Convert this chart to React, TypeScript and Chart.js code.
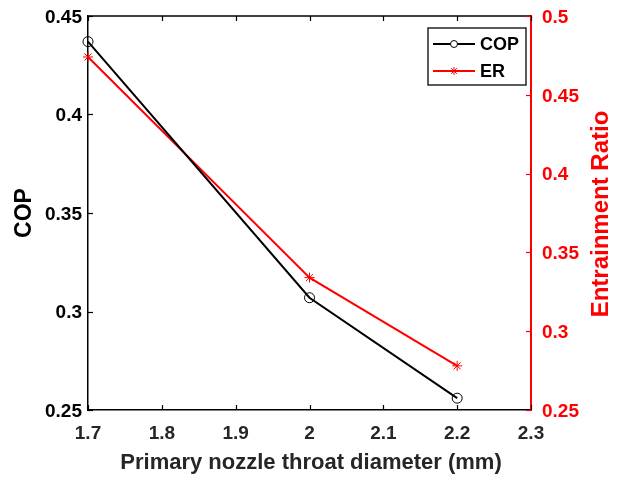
import React, { useEffect, useRef } from "react";
import { Chart, registerables } from "chart.js";

Chart.register(...registerables);

const X_VALUES = [1.7, 2.0, 2.2];
const COP_VALUES = [0.437, 0.307, 0.256];
const ER_VALUES = [0.474, 0.334, 0.278];

const X_MIN = 1.7, X_MAX = 2.3, X_STEP = 0.1;
const COP_MIN = 0.25, COP_MAX = 0.45, COP_STEP = 0.05;
const ER_MIN = 0.25, ER_MAX = 0.5, ER_STEP = 0.05;

const X_TITLE = "Primary nozzle throat diameter (mm)";
const LEFT_TITLE = "COP";
const RIGHT_TITLE = "Entrainment Ratio";
const SERIES_NAMES = ["COP", "ER"];

const FONT = "'Liberation Sans', Arial, Helvetica, sans-serif";
const BLACK = "#000000";
const RED = "#ff0000";
const DARK = "#262626";

const fmt = (v: number) => String(Number(Number(v).toFixed(2)));

const matlabPlugin = {
  id: "matlabAxes",
  afterDraw(chart: any) {
    const { ctx, chartArea } = chart;
    const { left, right, top, bottom } = chartArea;
    const xs = chart.scales.x;
    const yl = chart.scales.y;
    const yr = chart.scales.y1;
    const TL = 5;
    ctx.save();
    // top border
    ctx.strokeStyle = BLACK;
    ctx.lineWidth = 1.5;
    ctx.beginPath();
    ctx.moveTo(left, top);
    ctx.lineTo(right, top);
    ctx.stroke();
    // x ticks (bottom and top, inward)
    ctx.lineWidth = 1.2;
    xs.ticks.forEach((t: any) => {
      const px = Math.round(xs.getPixelForValue(t.value)) + 0.5;
      ctx.beginPath();
      ctx.moveTo(px, bottom);
      ctx.lineTo(px, bottom - TL);
      ctx.moveTo(px, top);
      ctx.lineTo(px, top + TL);
      ctx.stroke();
    });
    // left y ticks
    yl.ticks.forEach((t: any) => {
      const py = Math.round(yl.getPixelForValue(t.value)) + 0.5;
      ctx.beginPath();
      ctx.moveTo(left, py);
      ctx.lineTo(left + TL, py);
      ctx.stroke();
    });
    // right y ticks
    ctx.strokeStyle = RED;
    yr.ticks.forEach((t: any) => {
      const py = Math.round(yr.getPixelForValue(t.value)) + 0.5;
      ctx.beginPath();
      ctx.moveTo(right, py);
      ctx.lineTo(right - TL, py);
      ctx.stroke();
    });

    // titles
    ctx.font = `bold 22px ${FONT}`;
    ctx.textAlign = "center";
    ctx.textBaseline = "middle";
    ctx.fillStyle = DARK;
    ctx.fillText(X_TITLE, 311, 463);

    ctx.save();
    ctx.translate(25, 213);
    ctx.rotate(-Math.PI / 2);
    ctx.fillStyle = BLACK;
    ctx.font = `bold 23px ${FONT}`;
    ctx.fillText(LEFT_TITLE, 0, 0);
    ctx.restore();

    ctx.save();
    ctx.translate(601, 214);
    ctx.rotate(-Math.PI / 2);
    ctx.fillStyle = RED;
    ctx.font = `bold 24px ${FONT}`;
    ctx.fillText(RIGHT_TITLE, 0, 0);
    ctx.restore();

    // legend
    const bx = 428, by = 28, bw = 98, bh = 57;
    ctx.fillStyle = "#ffffff";
    ctx.fillRect(bx, by, bw, bh);
    ctx.strokeStyle = DARK;
    ctx.lineWidth = 1.5;
    ctx.strokeRect(bx, by, bw, bh);
    const rows = [
      { y: 44, color: BLACK, marker: "circle" },
      { y: 71, color: RED, marker: "star" },
    ];
    rows.forEach((r, i) => {
      ctx.strokeStyle = r.color;
      ctx.lineWidth = 2;
      ctx.beginPath();
      ctx.moveTo(433, r.y);
      ctx.lineTo(475, r.y);
      ctx.stroke();
      ctx.lineWidth = 1;
      const cx = 454;
      if (r.marker === "circle") {
        ctx.fillStyle = "#ffffff";
        ctx.beginPath();
        ctx.arc(cx, r.y, 3.5, 0, Math.PI * 2);
        ctx.fill();
        ctx.stroke();
      } else {
        const s = 4;
        ctx.beginPath();
        ctx.moveTo(cx - s, r.y); ctx.lineTo(cx + s, r.y);
        ctx.moveTo(cx, r.y - s); ctx.lineTo(cx, r.y + s);
        const d = s * 0.707;
        ctx.moveTo(cx - d, r.y - d); ctx.lineTo(cx + d, r.y + d);
        ctx.moveTo(cx - d, r.y + d); ctx.lineTo(cx + d, r.y - d);
        ctx.stroke();
      }
      ctx.fillStyle = BLACK;
      ctx.font = `bold 18px ${FONT}`;
      ctx.textAlign = "left";
      ctx.textBaseline = "middle";
      ctx.fillText(SERIES_NAMES[i], 480, r.y + 1);
    });
    ctx.restore();
  },
};

export default function App() {
  const ref = useRef<HTMLCanvasElement | null>(null);
  useEffect(() => {
    document.body.style.margin = "0";
    const canvas = ref.current!;
    const chart = new Chart(canvas, {
      type: "line",
      data: {
        datasets: [
          {
            label: SERIES_NAMES[0],
            data: X_VALUES.map((x, i) => ({ x, y: COP_VALUES[i] })),
            borderColor: BLACK,
            backgroundColor: "rgba(0,0,0,0)",
            borderWidth: 2,
            pointStyle: "circle",
            pointRadius: 5,
            pointBorderWidth: 1,
            pointBorderColor: BLACK,
            pointBackgroundColor: "rgba(0,0,0,0)",
            tension: 0,
            clip: false as any,
            yAxisID: "y",
          },
          {
            label: SERIES_NAMES[1],
            data: X_VALUES.map((x, i) => ({ x, y: ER_VALUES[i] })),
            borderColor: RED,
            backgroundColor: "rgba(0,0,0,0)",
            borderWidth: 2,
            pointStyle: "star",
            pointRadius: 5,
            pointBorderWidth: 1,
            pointBorderColor: RED,
            tension: 0,
            clip: false as any,
            yAxisID: "y1",
          },
        ],
      },
      options: {
        animation: false,
        responsive: false,
        maintainAspectRatio: false,
        layout: { padding: { top: 16, left: 0, right: 0, bottom: 0 } },
        plugins: { legend: { display: false }, tooltip: { enabled: false } },
        scales: {
          x: {
            type: "linear",
            min: X_MIN,
            max: X_MAX,
            grid: { display: false, drawTicks: false },
            border: { display: true, color: BLACK, width: 1.5 },
            ticks: {
              stepSize: X_STEP,
              color: DARK,
              padding: 12,
              maxRotation: 0,
              font: { family: FONT, size: 19, weight: "bold" },
              callback: (v: any) => fmt(v),
            },
            afterFit: (s: any) => { s.height = 69; s.paddingLeft = 0; s.paddingRight = 0; },
          },
          y: {
            type: "linear",
            position: "left",
            min: COP_MIN,
            max: COP_MAX,
            grid: { display: false, drawTicks: false },
            border: { display: true, color: BLACK, width: 1.5 },
            ticks: {
              stepSize: COP_STEP,
              color: BLACK,
              padding: 6,
              labelOffset: 1.5,
              font: { family: FONT, size: 19, weight: "bold" },
              callback: (v: any) => fmt(v),
            },
            afterFit: (s: any) => { s.width = 88; s.paddingTop = 0; s.paddingBottom = 0; },
          },
          y1: {
            type: "linear",
            position: "right",
            min: ER_MIN,
            max: ER_MAX,
            grid: { display: false, drawTicks: false },
            border: { display: true, color: RED, width: 2 },
            ticks: {
              stepSize: ER_STEP,
              color: RED,
              padding: 11,
              labelOffset: 1.5,
              font: { family: FONT, size: 19, weight: "bold" },
              callback: (v: any) => fmt(v),
            },
            afterFit: (s: any) => { s.width = 93; s.paddingTop = 0; s.paddingBottom = 0; },
          },
        },
      },
      plugins: [matlabPlugin],
    });
    return () => chart.destroy();
  }, []);
  return (
    <div style={{ width: 624, height: 479, background: "#fff" }}>
      <canvas ref={ref} width={624} height={479} style={{ display: "block" }} />
    </div>
  );
}
